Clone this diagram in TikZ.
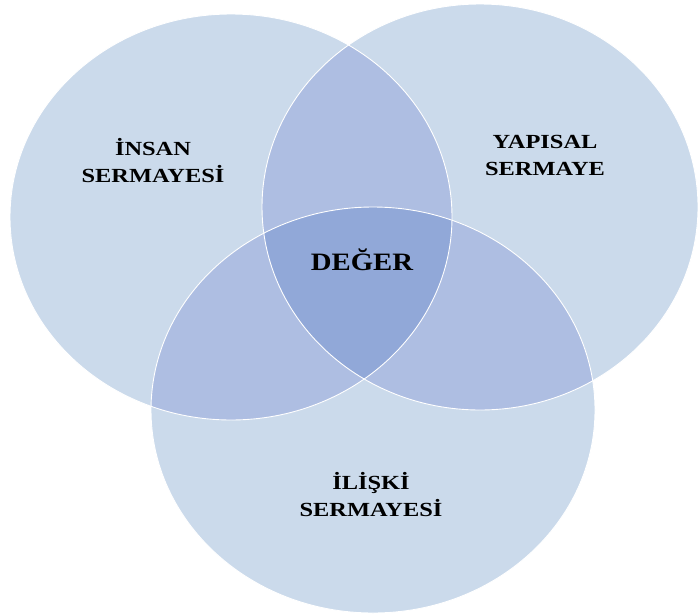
\documentclass[tikz,border=0pt]{standalone}
\usepackage{fontspec}
\setmainfont{Liberation Serif}
\definecolor{oneset}{HTML}{CBDAEB}
\definecolor{twoset}{HTML}{AEBEE2}
\definecolor{threeset}{HTML}{91A8D8}
% widened bold lettering
\newcommand\widetext[2][1.22]{\scalebox{#1}[1]{#2}}
\tikzset{
  rim/.style={draw=white, line width=0.9pt},
  setlabel/.style={font=\bfseries\fontsize{20}{27}\selectfont, align=center, text=black},
  corelabel/.style={font=\bfseries\fontsize{25}{30}\selectfont, text=black}
}
\begin{document}
\begin{tikzpicture}[x=1pt,y=-1pt]
\useasboundingbox (0,0) rectangle (698,613);
% centres of the three sets
\coordinate (human) at (231,217);
\coordinate (struct) at (480,207);
\coordinate (relat) at (373,410);
\def\hshape{(human) ellipse [x radius=221, y radius=203]}
\def\sshape{(struct) ellipse [x radius=218, y radius=203]}
\def\rshape{(relat) ellipse [x radius=222, y radius=203]}
% single regions
\fill[oneset] \hshape;
\fill[oneset] \sshape;
\fill[oneset] \rshape;
% pairwise overlaps
\begin{scope}
  \clip \hshape;
  \fill[twoset] \sshape;
  \fill[twoset] \rshape;
\end{scope}
\begin{scope}
  \clip \sshape;
  \fill[twoset] \rshape;
\end{scope}
% common core
\begin{scope}
  \clip \hshape;
  \clip \sshape;
  \fill[threeset] \rshape;
\end{scope}
% outlines
\draw[rim] \hshape;
\draw[rim] \sshape;
\draw[rim] \rshape;
% labels
\node[setlabel] (hl) at (153,161) {\widetext{İNSAN}\\\widetext{SERMAYESİ}};
\node[setlabel] (sl) at (545,155) {\widetext{YAPISAL}\\\widetext{SERMAYE}};
\node[setlabel] (rl) at (371,495) {\widetext{İLİŞKİ}\\\widetext{SERMAYESİ}};
\node[corelabel] (core) at (362,260) {\widetext[1.15]{DEĞER}};
\end{tikzpicture}
\end{document}
